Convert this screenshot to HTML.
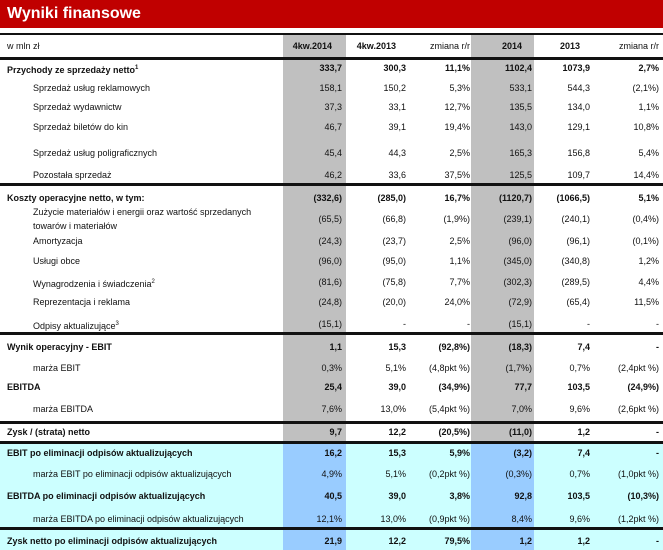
<!DOCTYPE html>
<html><head><meta charset="utf-8">
<style>
body{margin:0;width:663px;height:550px;background:#fff;position:relative;overflow:hidden;font-family:"Liberation Sans",sans-serif;font-size:9px;color:#111}
.abs{position:absolute}
.hdr{left:0;top:0;width:663px;height:28px;background:#c00000;color:#fff;font-weight:bold;font-size:16px;line-height:28px;padding-left:7px;box-sizing:border-box}
.line{position:absolute;left:0;width:663px;background:#111}
.t{position:absolute;white-space:nowrap;line-height:12px}
.r{text-align:right}
</style></head><body>
<div class="abs hdr">Wyniki finansowe</div>
<div id="tbl"></div>
<script>
const rowY=[68,88,107,127,153,175,198,219,241,261,282,302,324,347,368,387,409,432,453,474,496,519,541];
const labels=["Przychody ze sprzedaży netto","Sprzedaż usług reklamowych","Sprzedaż wydawnictw","Sprzedaż biletów do kin","Sprzedaż usług poligraficznych","Pozostała sprzedaż","Koszty operacyjne netto, w tym:","Zużycie materiałów i energii oraz wartość sprzedanych|towarów i materiałów","Amortyzacja","Usługi obce","Wynagrodzenia i świadczenia","Reprezentacja i reklama","Odpisy aktualizujące","Wynik operacyjny - EBIT","marża EBIT","EBITDA","marża EBITDA","Zysk / (strata) netto","EBIT po eliminacji odpisów aktualizujących","marża EBIT po eliminacji odpisów aktualizujących","EBITDA po eliminacji odpisów aktualizujących","marża EBITDA po eliminacji odpisów aktualizujących","Zysk netto po eliminacji odpisów aktualizujących"];
const sup=["1","","","","","","","","","","2","","3","","","","","","","","","",""];
const bold=[1,0,0,0,0,0,1,0,0,0,0,0,0,1,0,1,0,1,1,0,1,0,1];
const col4q14=["333,7","158,1","37,3","46,7","45,4","46,2","(332,6)","(65,5)","(24,3)","(96,0)","(81,6)","(24,8)","(15,1)","1,1","0,3%","25,4","7,6%","9,7","16,2","4,9%","40,5","12,1%","21,9"];
const col4q13=["300,3","150,2","33,1","39,1","44,3","33,6","(285,0)","(66,8)","(23,7)","(95,0)","(75,8)","(20,0)","-","15,3","5,1%","39,0","13,0%","12,2","15,3","5,1%","39,0","13,0%","12,2"];
const colChgQ=["11,1%","5,3%","12,7%","19,4%","2,5%","37,5%","16,7%","(1,9%)","2,5%","1,1%","7,7%","24,0%","-","(92,8%)","(4,8pkt %)","(34,9%)","(5,4pkt %)","(20,5%)","5,9%","(0,2pkt %)","3,8%","(0,9pkt %)","79,5%"];
const col2014=["1102,4","533,1","135,5","143,0","165,3","125,5","(1120,7)","(239,1)","(96,0)","(345,0)","(302,3)","(72,9)","(15,1)","(18,3)","(1,7%)","77,7","7,0%","(11,0)","(3,2)","(0,3%)","92,8","8,4%","1,2"];
const col2013=["1073,9","544,3","134,0","129,1","156,8","109,7","(1066,5)","(240,1)","(96,1)","(340,8)","(289,5)","(65,4)","-","7,4","0,7%","103,5","9,6%","1,2","7,4","0,7%","103,5","9,6%","1,2"];
const colChgY=["2,7%","(2,1%)","1,1%","10,8%","5,4%","14,4%","5,1%","(0,4%)","(0,1%)","1,2%","4,4%","11,5%","-","-","(2,4pkt %)","(24,9%)","(2,6pkt %)","-","-","(1,0pkt %)","(10,3%)","(1,2pkt %)","-"];
const headers=["4kw.2014","4kw.2013","zmiana r/r","2014","2013","zmiana r/r"];
const cols=[col4q14,col4q13,colChgQ,col2014,col2013,colChgY];
const colRight=[342,406,470,532,590,659];
const tbl=document.getElementById('tbl');
function box(x,y,w,h,bg,name){const d=document.createElement('div');d.className='abs';d.style.cssText=`left:${x}px;top:${y}px;width:${w}px;height:${h}px;background:${bg}`;


tbl.appendChild(d);}
box(0,443,663,107,'#ccffff','highlight-region');
box(283,35,63,408,'#c0c0c0','shade-col-4kw2014');
box(471,35,63,408,'#c0c0c0','shade-col-2014');
box(283,443,63,107,'#99ccff','blue-col-4kw2014');
box(471,443,63,107,'#99ccff','blue-col-2014');
function line(y,h,name){const d=document.createElement('div');d.className='line';d.style.top=y+'px';d.style.height=h+'px';


tbl.appendChild(d);}
line(33,2,'top-rule');line(57,3,'header-rule');line(183,3,'rule-costs');line(332,3,'rule-ebit');line(421,3,'rule-net');line(441,3,'rule-adjusted');line(527,3,'rule-adjusted-net');
function txt(x,y,s,cls,name,w){const d=document.createElement('div');d.className='t '+(cls||'');d.style.top=(y-6)+'px';
if(w){d.style.left=(x-w)+'px';d.style.width=w+'px';}else d.style.left=x+'px';
d.innerHTML=s;


tbl.appendChild(d);return d;}
txt(7,46,'w mln zł','','unit-label');
headers.forEach((h,i)=>{const d=txt(colRight[i]-(i==2||i==5?0:10),46,h,'r','col-header',70);if(i==0||i==1||i==3||i==4)d.style.fontWeight='bold';});
labels.forEach((l,i)=>{const indent=bold[i]?7:33;const parts=l.split('|');
let y=rowY[i];if(parts.length>1)y=rowY[i]-7;
parts.forEach((p,k)=>{const d=txt(indent,y+k*14,p+(k==0&&sup[i]?'<sup style="font-size:6px">'+sup[i]+'</sup>':''),'','row-label');if(bold[i])d.style.fontWeight='bold';});
cols.forEach((c,j)=>{const d=txt(colRight[j],rowY[i],c[i],'r','cell-value',80);if(bold[i])d.style.fontWeight='bold';});});
</script>
</body></html>
